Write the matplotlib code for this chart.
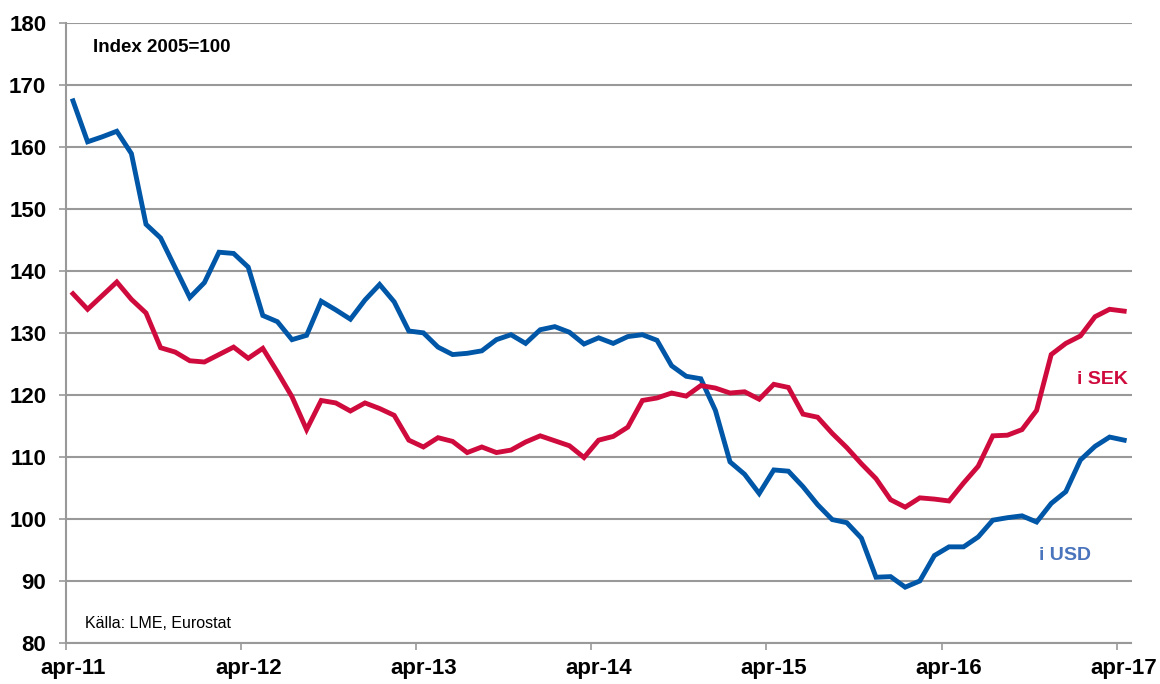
import matplotlib
matplotlib.use("Agg")
import matplotlib.pyplot as plt
import numpy as np

plt.rcParams['font.family'] = ['Liberation Sans', 'DejaVu Sans']

# Monthly index values, apr-11 .. apr-17 (73 months)
usd = [167.4, 160.8, 161.6, 162.5, 158.9, 147.5, 145.3, 140.5, 135.7, 138.1,
       143.0, 142.8, 140.6, 132.8, 131.8, 128.9, 129.6, 135.1, 133.7, 132.2,
       135.3, 137.8, 135.0, 130.3, 130.0, 127.7, 126.5, 126.7, 127.1, 128.9,
       129.7, 128.3, 130.5, 131.0, 130.1, 128.2, 129.2, 128.3, 129.4, 129.7,
       128.8, 124.7, 123.0, 122.6, 117.5, 109.2, 107.2, 104.1, 107.9, 107.7,
       105.2, 102.3, 99.9, 99.4, 96.9, 90.6, 90.7, 89.0, 90.0, 94.1,
       95.5, 95.5, 97.1, 99.8, 100.2, 100.5, 99.5, 102.5, 104.4, 109.5,
       111.7, 113.2, 112.7]
sek = [136.3, 133.8, 136.0, 138.2, 135.4, 133.2, 127.6, 126.9, 125.5, 125.3,
       126.5, 127.7, 125.9, 127.5, 123.7, 119.7, 114.4, 119.1, 118.7, 117.4,
       118.7, 117.8, 116.7, 112.7, 111.6, 113.1, 112.5, 110.7, 111.6, 110.7,
       111.1, 112.4, 113.4, 112.6, 111.8, 109.9, 112.7, 113.3, 114.8, 119.1,
       119.5, 120.3, 119.8, 121.5, 121.1, 120.3, 120.5, 119.3, 121.7, 121.2,
       116.9, 116.4, 113.8, 111.5, 108.9, 106.5, 103.1, 101.9, 103.4, 103.2,
       102.9, 105.8, 108.5, 113.4, 113.5, 114.4, 117.5, 126.5, 128.3, 129.5,
       132.6, 133.8, 133.5]
year_labels = ['apr-11', 'apr-12', 'apr-13', 'apr-14', 'apr-15', 'apr-16', 'apr-17']
y_ticks = list(range(80, 181, 10))

blue = '#0056A7'
red = '#CF0A3C'
grid_c = '#999999'

fig = plt.figure(figsize=(11.6, 6.84), dpi=100)
ax = fig.add_axes([65.7/1160, 1 - 643/684, (1131.5 - 65.7)/1160, (643 - 22.7)/684])

x = np.arange(len(usd))
ax.plot(x, usd, color=blue, lw=3.5, solid_joinstyle='miter', zorder=3)
ax.plot(x, sek, color=red, lw=3.5, solid_joinstyle='miter', zorder=3)

ax.set_xlim(-0.5, len(usd) - 0.5)
ax.set_ylim(80, 180)

ax.set_yticks(y_ticks)
ax.set_yticklabels([str(v) for v in y_ticks], fontsize=16, fontweight='bold')
ax.yaxis.grid(True, color=grid_c, lw=1.5)
ax.set_axisbelow(True)

major = [12 * k - 0.5 for k in range(len(year_labels))]
ax.set_xticks(major)
ax.set_xticklabels([''] * len(major))
ax.set_xticks([12 * k for k in range(len(year_labels))], minor=True)
ax.set_xticklabels(year_labels, minor=True, fontsize=16, fontweight='bold')
ax.tick_params(axis='x', which='minor', length=0, pad=11)
ax.tick_params(axis='x', which='major', length=5, width=1.2, color=grid_c)
ax.tick_params(axis='y', length=5, width=1.2, color=grid_c, pad=9)

for s in ['top', 'right']:
    ax.spines[s].set_visible(False)
for s in ['left', 'bottom']:
    ax.spines[s].set_color(grid_c)
    ax.spines[s].set_linewidth(1.5)

ax.text(93/1160, 1 - 48/684, 'Index 2005=100', transform=fig.transFigure,
        fontsize=13.5, fontweight='bold', va='center', ha='left')
ax.text(85/1160, 1 - 624/684, 'Källa: LME, Eurostat', transform=fig.transFigure,
        fontsize=11.5, va='center', ha='left')
ax.text(1128/1160, 1 - 379/684, 'i SEK', transform=fig.transFigure,
        fontsize=14, fontweight='bold', va='center', ha='right', color=red)
ax.text(1091/1160, 1 - 555/684, 'i USD', transform=fig.transFigure,
        fontsize=14, fontweight='bold', va='center', ha='right', color='#4A74BC')

fig.savefig('out.png', dpi=100)
